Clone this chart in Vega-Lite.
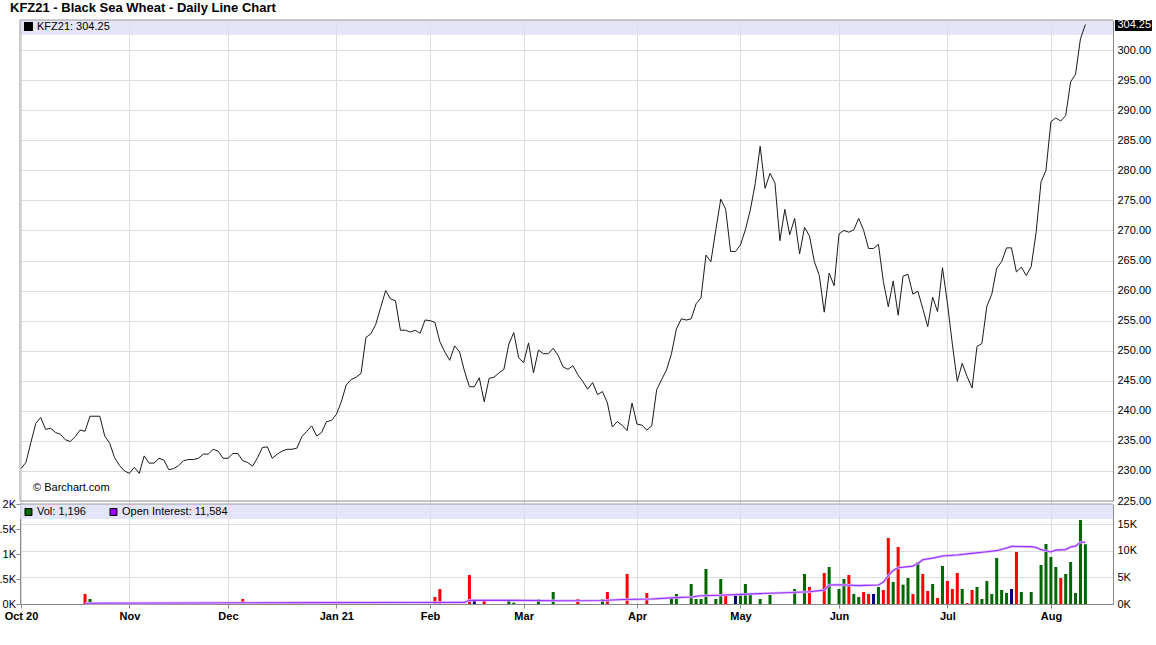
{
  "$schema": "https://vega.github.io/schema/vega-lite/v6.json",
  "autosize": {"type": "none"},
  "width": 1093,
  "height": 584,
  "padding": {"left": 20, "top": 20, "right": 43, "bottom": 41},
  "background": "white",
  "title": {"text": "KFZ21 - Black Sea Wheat - Daily Line Chart", "anchor": "start", "frame": "group", "dx": -10, "dy": 13, "offset": 7, "baseline": "alphabetic", "fontSize": 13, "fontWeight": "bold", "font": "Liberation Sans", "color": "#000"},
  "config": {"view": {"stroke": null}, "font": "Liberation Sans", "axis": {"labelFont": "Liberation Sans", "labelColor": "#000", "labelFontSize": 11, "domainColor": "#888", "tickColor": "#888", "gridColor": "#dcdcdc"}},
  "datasets": {
    "price": [
      {"t":0,"p":230.4},{"t":1,"p":231.4},{"t":2,"p":234.7},{"t":3,"p":237.9},{"t":4,"p":238.9},{"t":5,"p":236.9},{"t":6,"p":237.1},{"t":7,"p":236.4},{"t":8,"p":236.1},{"t":9,"p":235.2},
      {"t":10,"p":234.9},{"t":11,"p":235.7},{"t":12,"p":236.8},{"t":13,"p":236.6},{"t":14,"p":239.1},{"t":15,"p":239.1},{"t":16,"p":239.1},{"t":17,"p":235.8},{"t":18,"p":234.6},{"t":19,"p":232.2},
      {"t":20,"p":230.9},{"t":21,"p":230.0},{"t":22,"p":229.6},{"t":23,"p":230.6},{"t":24,"p":229.6},{"t":25,"p":232.5},{"t":26,"p":231.3},{"t":27,"p":231.3},{"t":28,"p":232.1},{"t":29,"p":231.8},
      {"t":30,"p":230.2},{"t":31,"p":230.4},{"t":32,"p":230.9},{"t":33,"p":231.7},{"t":34,"p":231.9},{"t":35,"p":231.9},{"t":36,"p":232.1},{"t":37,"p":232.8},{"t":38,"p":232.8},{"t":39,"p":233.6},
      {"t":40,"p":233.3},{"t":41,"p":232.1},{"t":42,"p":232.1},{"t":43,"p":232.9},{"t":44,"p":232.9},{"t":45,"p":231.7},{"t":46,"p":231.4},{"t":47,"p":230.8},{"t":48,"p":232.2},{"t":49,"p":233.9},
      {"t":50,"p":234.0},{"t":51,"p":232.1},{"t":52,"p":232.8},{"t":53,"p":233.3},{"t":54,"p":233.6},{"t":55,"p":233.6},{"t":56,"p":233.8},{"t":57,"p":235.7},{"t":58,"p":236.6},{"t":59,"p":237.5},
      {"t":60,"p":235.8},{"t":61,"p":236.4},{"t":62,"p":238.2},{"t":63,"p":238.4},{"t":64,"p":239.4},{"t":65,"p":241.5},{"t":66,"p":244.3},{"t":67,"p":245.2},{"t":68,"p":245.6},{"t":69,"p":246.2},
      {"t":70,"p":252.2},{"t":71,"p":252.8},{"t":72,"p":254.4},{"t":73,"p":257.2},{"t":74,"p":260.0},{"t":75,"p":258.6},{"t":76,"p":258.3},{"t":77,"p":253.4},{"t":78,"p":253.4},{"t":79,"p":253.1},
      {"t":80,"p":253.4},{"t":81,"p":252.9},{"t":82,"p":255.1},{"t":83,"p":255.0},{"t":84,"p":254.7},{"t":85,"p":251.5},{"t":86,"p":249.8},{"t":87,"p":248.4},{"t":88,"p":250.8},{"t":89,"p":249.8},
      {"t":90,"p":246.6},{"t":91,"p":244.0},{"t":92,"p":244.0},{"t":93,"p":245.5},{"t":94,"p":241.5},{"t":95,"p":245.4},{"t":96,"p":245.6},{"t":97,"p":246.3},{"t":98,"p":246.9},{"t":99,"p":251.1},
      {"t":100,"p":253.0},{"t":101,"p":248.8},{"t":102,"p":248.0},{"t":103,"p":251.3},{"t":104,"p":246.3},{"t":105,"p":250.1},{"t":106,"p":249.5},{"t":107,"p":249.5},{"t":108,"p":250.4},{"t":109,"p":249.2},
      {"t":110,"p":247.3},{"t":111,"p":246.9},{"t":112,"p":247.5},{"t":113,"p":246.0},{"t":114,"p":244.9},{"t":115,"p":243.6},{"t":116,"p":244.7},{"t":117,"p":242.7},{"t":118,"p":243.2},{"t":119,"p":241.3},
      {"t":120,"p":237.3},{"t":121,"p":238.2},{"t":122,"p":237.6},{"t":123,"p":236.7},{"t":124,"p":241.3},{"t":125,"p":237.8},{"t":126,"p":237.6},{"t":127,"p":236.8},{"t":128,"p":237.5},{"t":129,"p":243.5},
      {"t":130,"p":245.2},{"t":131,"p":246.8},{"t":132,"p":249.5},{"t":133,"p":253.6},{"t":134,"p":255.3},{"t":135,"p":255.1},{"t":136,"p":255.3},{"t":137,"p":257.8},{"t":138,"p":258.8},{"t":139,"p":265.9},
      {"t":140,"p":264.8},{"t":141,"p":270.1},{"t":142,"p":275.2},{"t":143,"p":273.5},{"t":144,"p":266.5},{"t":145,"p":266.5},{"t":146,"p":267.6},{"t":147,"p":270.1},{"t":148,"p":273.4},{"t":149,"p":277.8},
      {"t":150,"p":284.0},{"t":151,"p":277.0},{"t":152,"p":279.5},{"t":153,"p":277.9},{"t":154,"p":268.3},{"t":155,"p":273.5},{"t":156,"p":269.3},{"t":157,"p":272.0},{"t":158,"p":266.1},{"t":159,"p":270.5},
      {"t":160,"p":269.1},{"t":161,"p":264.8},{"t":162,"p":262.5},{"t":163,"p":256.4},{"t":164,"p":262.9},{"t":165,"p":260.8},{"t":166,"p":269.4},{"t":167,"p":270.0},{"t":168,"p":269.7},{"t":169,"p":270.1},
      {"t":170,"p":272.0},{"t":171,"p":270.0},{"t":172,"p":267.0},{"t":173,"p":267.0},{"t":174,"p":267.7},{"t":175,"p":261.5},{"t":176,"p":257.3},{"t":177,"p":261.6},{"t":178,"p":255.9},{"t":179,"p":262.4},
      {"t":180,"p":262.7},{"t":181,"p":259.4},{"t":182,"p":259.9},{"t":183,"p":257.0},{"t":184,"p":254.0},{"t":185,"p":258.9},{"t":186,"p":256.5},{"t":187,"p":263.8},{"t":188,"p":257.9},{"t":189,"p":251.1},
      {"t":190,"p":244.9},{"t":191,"p":247.9},{"t":192,"p":245.7},{"t":193,"p":243.8},{"t":194,"p":250.7},{"t":195,"p":251.2},{"t":196,"p":257.4},{"t":197,"p":259.4},{"t":198,"p":263.7},{"t":199,"p":264.8},
      {"t":200,"p":267.1},{"t":201,"p":267.1},{"t":202,"p":263.1},{"t":203,"p":263.9},{"t":204,"p":262.5},{"t":205,"p":264.0},{"t":206,"p":269.7},{"t":207,"p":278.1},{"t":208,"p":280.0},{"t":209,"p":288.1},
      {"t":210,"p":288.7},{"t":211,"p":288.2},{"t":212,"p":289.1},{"t":213,"p":294.7},{"t":214,"p":296.0},{"t":215,"p":301.9},{"t":216,"p":304.25}
    ],
    "vol": [
      {"t":13,"v":200,"c":"down"},{"t":14,"v":100,"c":"up"},{"t":45,"v":100,"c":"down"},{"t":84,"v":140,"c":"down"},{"t":85,"v":300,"c":"down"},
      {"t":91,"v":580,"c":"down"},{"t":92,"v":100,"c":"same"},{"t":94,"v":60,"c":"down"},{"t":99,"v":100,"c":"up"},{"t":100,"v":27,"c":"up"},
      {"t":105,"v":100,"c":"up"},{"t":108,"v":240,"c":"up"},{"t":113,"v":100,"c":"down"},{"t":118,"v":100,"c":"up"},{"t":119,"v":240,"c":"down"},
      {"t":123,"v":600,"c":"down"},{"t":127,"v":220,"c":"down"},{"t":132,"v":100,"c":"up"},{"t":133,"v":200,"c":"up"},{"t":136,"v":400,"c":"up"},
      {"t":137,"v":100,"c":"up"},{"t":138,"v":100,"c":"up"},{"t":139,"v":700,"c":"up"},{"t":141,"v":100,"c":"up"},{"t":142,"v":500,"c":"up"},
      {"t":143,"v":167,"c":"down"},{"t":145,"v":167,"c":"same"},{"t":146,"v":200,"c":"up"},{"t":147,"v":400,"c":"up"},{"t":148,"v":200,"c":"up"},
      {"t":150,"v":100,"c":"up"},{"t":152,"v":180,"c":"up"},{"t":157,"v":300,"c":"up"},{"t":159,"v":600,"c":"up"},{"t":160,"v":340,"c":"down"},
      {"t":163,"v":620,"c":"down"},{"t":164,"v":740,"c":"up"},{"t":166,"v":300,"c":"up"},{"t":167,"v":500,"c":"up"},{"t":168,"v":580,"c":"down"},
      {"t":169,"v":200,"c":"up"},{"t":170,"v":140,"c":"up"},{"t":171,"v":240,"c":"down"},{"t":172,"v":200,"c":"down"},{"t":173,"v":200,"c":"same"},
      {"t":174,"v":340,"c":"up"},{"t":175,"v":280,"c":"down"},{"t":176,"v":1320,"c":"down"},{"t":177,"v":440,"c":"up"},{"t":178,"v":1140,"c":"down"},
      {"t":179,"v":387,"c":"up"},{"t":180,"v":520,"c":"up"},{"t":181,"v":200,"c":"down"},{"t":182,"v":840,"c":"up"},{"t":183,"v":600,"c":"down"},
      {"t":184,"v":260,"c":"down"},{"t":185,"v":400,"c":"up"},{"t":186,"v":120,"c":"down"},{"t":187,"v":760,"c":"up"},{"t":188,"v":460,"c":"down"},
      {"t":189,"v":300,"c":"down"},{"t":190,"v":620,"c":"down"},{"t":191,"v":300,"c":"up"},{"t":192,"v":20,"c":"down"},{"t":193,"v":280,"c":"down"},
      {"t":194,"v":340,"c":"up"},{"t":195,"v":100,"c":"up"},{"t":196,"v":460,"c":"up"},{"t":197,"v":200,"c":"up"},{"t":198,"v":920,"c":"up"},
      {"t":199,"v":280,"c":"up"},{"t":200,"v":220,"c":"up"},{"t":201,"v":300,"c":"same"},{"t":202,"v":1040,"c":"down"},{"t":203,"v":240,"c":"up"},
      {"t":205,"v":240,"c":"up"},{"t":207,"v":780,"c":"up"},{"t":208,"v":1200,"c":"up"},{"t":209,"v":940,"c":"up"},{"t":210,"v":740,"c":"up"},
      {"t":211,"v":520,"c":"down"},{"t":212,"v":600,"c":"up"},{"t":213,"v":840,"c":"up"},{"t":214,"v":220,"c":"up"},{"t":215,"v":1680,"c":"up"},
      {"t":216,"v":1196,"c":"up"}
    ],
    "oi": [
      {"t":13,"oi":150},{"t":30,"oi":180},{"t":45,"oi":230},{"t":60,"oi":260},{"t":80,"oi":280},{"t":90,"oi":300},{"t":91,"oi":700},
      {"t":100,"oi":680},{"t":110,"oi":600},{"t":118,"oi":650},{"t":122,"oi":850},{"t":128,"oi":950},{"t":132,"oi":1150},{"t":136,"oi":1300},
      {"t":138,"oi":1550},{"t":142,"oi":1650},{"t":146,"oi":1800},{"t":150,"oi":1950},{"t":155,"oi":2100},{"t":160,"oi":2300},{"t":163,"oi":2600},
      {"t":164,"oi":3550},{"t":166,"oi":3600},{"t":170,"oi":3450},{"t":174,"oi":3550},{"t":175,"oi":4100},{"t":176,"oi":5300},{"t":177,"oi":6300},
      {"t":178,"oi":6800},{"t":181,"oi":7100},{"t":182,"oi":7600},{"t":183,"oi":8300},{"t":185,"oi":8600},{"t":187,"oi":9000},{"t":190,"oi":9200},
      {"t":193,"oi":9500},{"t":196,"oi":9800},{"t":198,"oi":10000},{"t":200,"oi":10500},{"t":201,"oi":10800},{"t":205,"oi":10750},{"t":206,"oi":10600},
      {"t":207,"oi":10200},{"t":208,"oi":10000},{"t":209,"oi":9750},{"t":210,"oi":10100},{"t":211,"oi":10150},{"t":212,"oi":10200},{"t":213,"oi":10700},
      {"t":214,"oi":10850},{"t":215,"oi":11600},{"t":216,"oi":11584}
    ]
  },
  "layer": [
    {
      "data": {"values": [{}]},
      "mark": {"type": "rule", "opacity": 0},
      "encoding": {
        "x": {"datum": 0, "type": "quantitative"},
        "y": {"datum": 0, "type": "quantitative", "scale": {"domain": [0, 1]}, "axis": null}
      }
    },
    {
      "layer": [
        {
          "data": {"values": [{}]},
          "mark": {"type": "rect", "fill": "#dedef8", "opacity": 0.8},
          "encoding": {
            "x": {"datum": -0.2, "type": "quantitative"},
            "x2": {"datum": 221.6},
            "y": {"datum": 302.5, "type": "quantitative"},
            "y2": {"datum": 305}
          }
        },
        {
          "data": {"name": "price"},
          "mark": {"type": "line", "color": "#1a1a1a", "strokeWidth": 1},
          "encoding": {
            "x": {
              "field": "t", "type": "quantitative",
              "scale": {"domain": [-0.2, 221.6], "nice": false, "zero": false, "padding": 0},
              "axis": {
                "title": null, "orient": "bottom",
                "values": [0, 22, 42, 64, 83, 102, 125, 146, 166, 188, 209],
                "tickCount": 30,
                "labelExpr": "datum.value == 0 ? 'Oct 20' : datum.value == 22 ? 'Nov' : datum.value == 42 ? 'Dec' : datum.value == 64 ? 'Jan 21' : datum.value == 83 ? 'Feb' : datum.value == 102 ? 'Mar' : datum.value == 125 ? 'Apr' : datum.value == 146 ? 'May' : datum.value == 166 ? 'Jun' : datum.value == 188 ? 'Jul' : datum.value == 209 ? 'Aug' : ''",
                "grid": true, "labelFlush": false, "labelFontWeight": "bold", "labelFontSize": 11,
                "tickSize": 4, "labelPadding": 2, "labelOverlap": false
              }
            },
            "y": {
              "field": "p", "type": "quantitative",
              "scale": {"domain": [225, 305], "range": [481, 0], "nice": false, "zero": false},
              "axis": {
                "title": null, "orient": "right",
                "values": [225, 230, 235, 240, 245, 250, 255, 260, 265, 270, 275, 280, 285, 290, 295, 300],
                "tickCount": 40,
                "format": ".2f", "grid": true, "ticks": false, "labelPadding": 4, "labelOverlap": false
              }
            }
          }
        },
        {
          "data": {"values": [{}]},
          "mark": {"type": "rule", "color": "#999", "strokeWidth": 1},
          "encoding": {
            "x": {"datum": -0.2, "type": "quantitative"},
            "x2": {"datum": 221.6},
            "y": {"datum": 305, "type": "quantitative"}
          }
        },
        {
          "data": {"values": [{}]},
          "mark": {"type": "rule", "color": "#999", "strokeWidth": 1},
          "encoding": {
            "x": {"datum": -0.2, "type": "quantitative"},
            "x2": {"datum": 221.6},
            "y": {"datum": 225, "type": "quantitative"}
          }
        },
        {
          "data": {"values": [{}]},
          "mark": {"type": "rule", "color": "#999", "strokeWidth": 1},
          "encoding": {
            "x": {"datum": -0.2, "type": "quantitative"},
            "y": {"datum": 225, "type": "quantitative"},
            "y2": {"datum": 305}
          }
        },
        {
          "data": {"values": [{}]},
          "mark": {"type": "square", "size": 49, "fill": "#000", "stroke": "#000", "opacity": 1},
          "encoding": {
            "x": {"datum": 1.52, "type": "quantitative"},
            "y": {"datum": 303.9, "type": "quantitative"}
          }
        },
        {
          "data": {"values": [{}]},
          "mark": {"type": "text", "align": "left", "baseline": "middle", "fontSize": 11, "color": "#000", "font": "Liberation Sans"},
          "encoding": {
            "x": {"datum": 3.25, "type": "quantitative"},
            "y": {"datum": 303.84, "type": "quantitative"},
            "text": {"value": "KFZ21: 304.25"}
          }
        },
        {
          "data": {"values": [{}]},
          "mark": {"type": "text", "align": "left", "baseline": "middle", "fontSize": 11, "color": "#000", "font": "Liberation Sans"},
          "encoding": {
            "x": {"datum": 2.44, "type": "quantitative"},
            "y": {"datum": 227.16, "type": "quantitative"},
            "text": {"value": "© Barchart.com"}
          }
        },
        {
          "data": {"values": [{}]},
          "mark": {"type": "rect", "fill": "#000"},
          "encoding": {
            "x": {"datum": 222.0, "type": "quantitative"},
            "x2": {"datum": 229.5},
            "y": {"datum": 305, "type": "quantitative"},
            "y2": {"datum": 303.17}
          }
        },
        {
          "data": {"values": [{}]},
          "mark": {"type": "text", "align": "left", "baseline": "middle", "fontSize": 11, "color": "#fff", "font": "Liberation Sans"},
          "encoding": {
            "x": {"datum": 222.5, "type": "quantitative"},
            "y": {"datum": 304.1, "type": "quantitative"},
            "text": {"value": "304.25"}
          }
        }
      ]
    },
    {
      "layer": [
        {
          "data": {"values": [{}]},
          "mark": {"type": "rect", "fill": "#dedef8", "opacity": 0.8},
          "encoding": {
            "x": {"datum": -0.2, "type": "quantitative"},
            "x2": {"datum": 221.6},
            "y": {"datum": 1700, "type": "quantitative"},
            "y2": {"datum": 2000}
          }
        },
        {
          "data": {"name": "vol"},
          "mark": {"type": "bar", "size": 3},
          "encoding": {
            "x": {"field": "t", "type": "quantitative"},
            "y": {
              "field": "v", "type": "quantitative",
              "scale": {"domain": [0, 2000], "range": [584, 484], "nice": false},
              "axis": {
                "title": null, "orient": "left", "values": [0, 500, 1000, 1500, 2000], "tickCount": 20,
                "labelExpr": "datum.value == 0 ? '0K' : datum.value == 500 ? '0.5K' : datum.value == 1000 ? '1K' : datum.value == 1500 ? '1.5K' : '2K'",
                "grid": false, "tickSize": 4, "labelPadding": 0.5, "labelOverlap": false
              }
            },
            "color": {
              "field": "c", "type": "nominal",
              "scale": {"domain": ["up", "down", "same"], "range": ["#006600", "#ff0000", "#000080"]},
              "legend": null
            }
          }
        },
        {
          "data": {"values": [{}]},
          "mark": {"type": "rule", "color": "#999", "strokeWidth": 1},
          "encoding": {
            "x": {"datum": -0.2, "type": "quantitative"},
            "x2": {"datum": 221.6},
            "y": {"datum": 2000, "type": "quantitative"}
          }
        },
        {
          "data": {"values": [{}]},
          "mark": {"type": "square", "size": 49, "fill": "#006600", "stroke": "#000", "strokeWidth": 1, "opacity": 1},
          "encoding": {
            "x": {"datum": 1.52, "type": "quantitative"},
            "y": {"datum": 1840, "type": "quantitative"}
          }
        },
        {
          "data": {"values": [{}]},
          "mark": {"type": "text", "align": "left", "baseline": "middle", "fontSize": 11, "color": "#000", "font": "Liberation Sans"},
          "encoding": {
            "x": {"datum": 3.25, "type": "quantitative"},
            "y": {"datum": 1840, "type": "quantitative"},
            "text": {"value": "Vol: 1,196"}
          }
        },
        {
          "data": {"values": [{}]},
          "mark": {"type": "square", "size": 49, "fill": "#9900ff", "stroke": "#000", "strokeWidth": 1, "opacity": 1},
          "encoding": {
            "x": {"datum": 18.77, "type": "quantitative"},
            "y": {"datum": 1840, "type": "quantitative"}
          }
        },
        {
          "data": {"values": [{}]},
          "mark": {"type": "text", "align": "left", "baseline": "middle", "fontSize": 11, "color": "#000", "font": "Liberation Sans"},
          "encoding": {
            "x": {"datum": 20.5, "type": "quantitative"},
            "y": {"datum": 1840, "type": "quantitative"},
            "text": {"value": "Open Interest: 11,584"}
          }
        }
      ]
    },
    {
      "data": {"name": "oi"},
      "layer": [
        {
          "mark": {"type": "line", "color": "#dcb8ff", "strokeWidth": 2.5},
          "encoding": {
            "x": {"field": "t", "type": "quantitative"},
            "y": {
              "field": "oi", "type": "quantitative",
              "scale": {"domain": [0, 18750], "range": [584, 484], "nice": false},
              "axis": {
                "title": null, "orient": "right", "values": [0, 5000, 10000, 15000], "tickCount": 20,
                "labelExpr": "(datum.value / 1000) + 'K'",
                "grid": true, "ticks": false, "labelPadding": 4, "labelOverlap": false
              }
            }
          }
        },
        {
          "mark": {"type": "line", "color": "#9933ff", "strokeWidth": 1.1},
          "encoding": {
            "x": {"field": "t", "type": "quantitative"},
            "y": {"field": "oi", "type": "quantitative"}
          }
        }
      ]
    }
  ],
  "resolve": {"scale": {"y": "independent"}, "axis": {"y": "independent"}}
}
